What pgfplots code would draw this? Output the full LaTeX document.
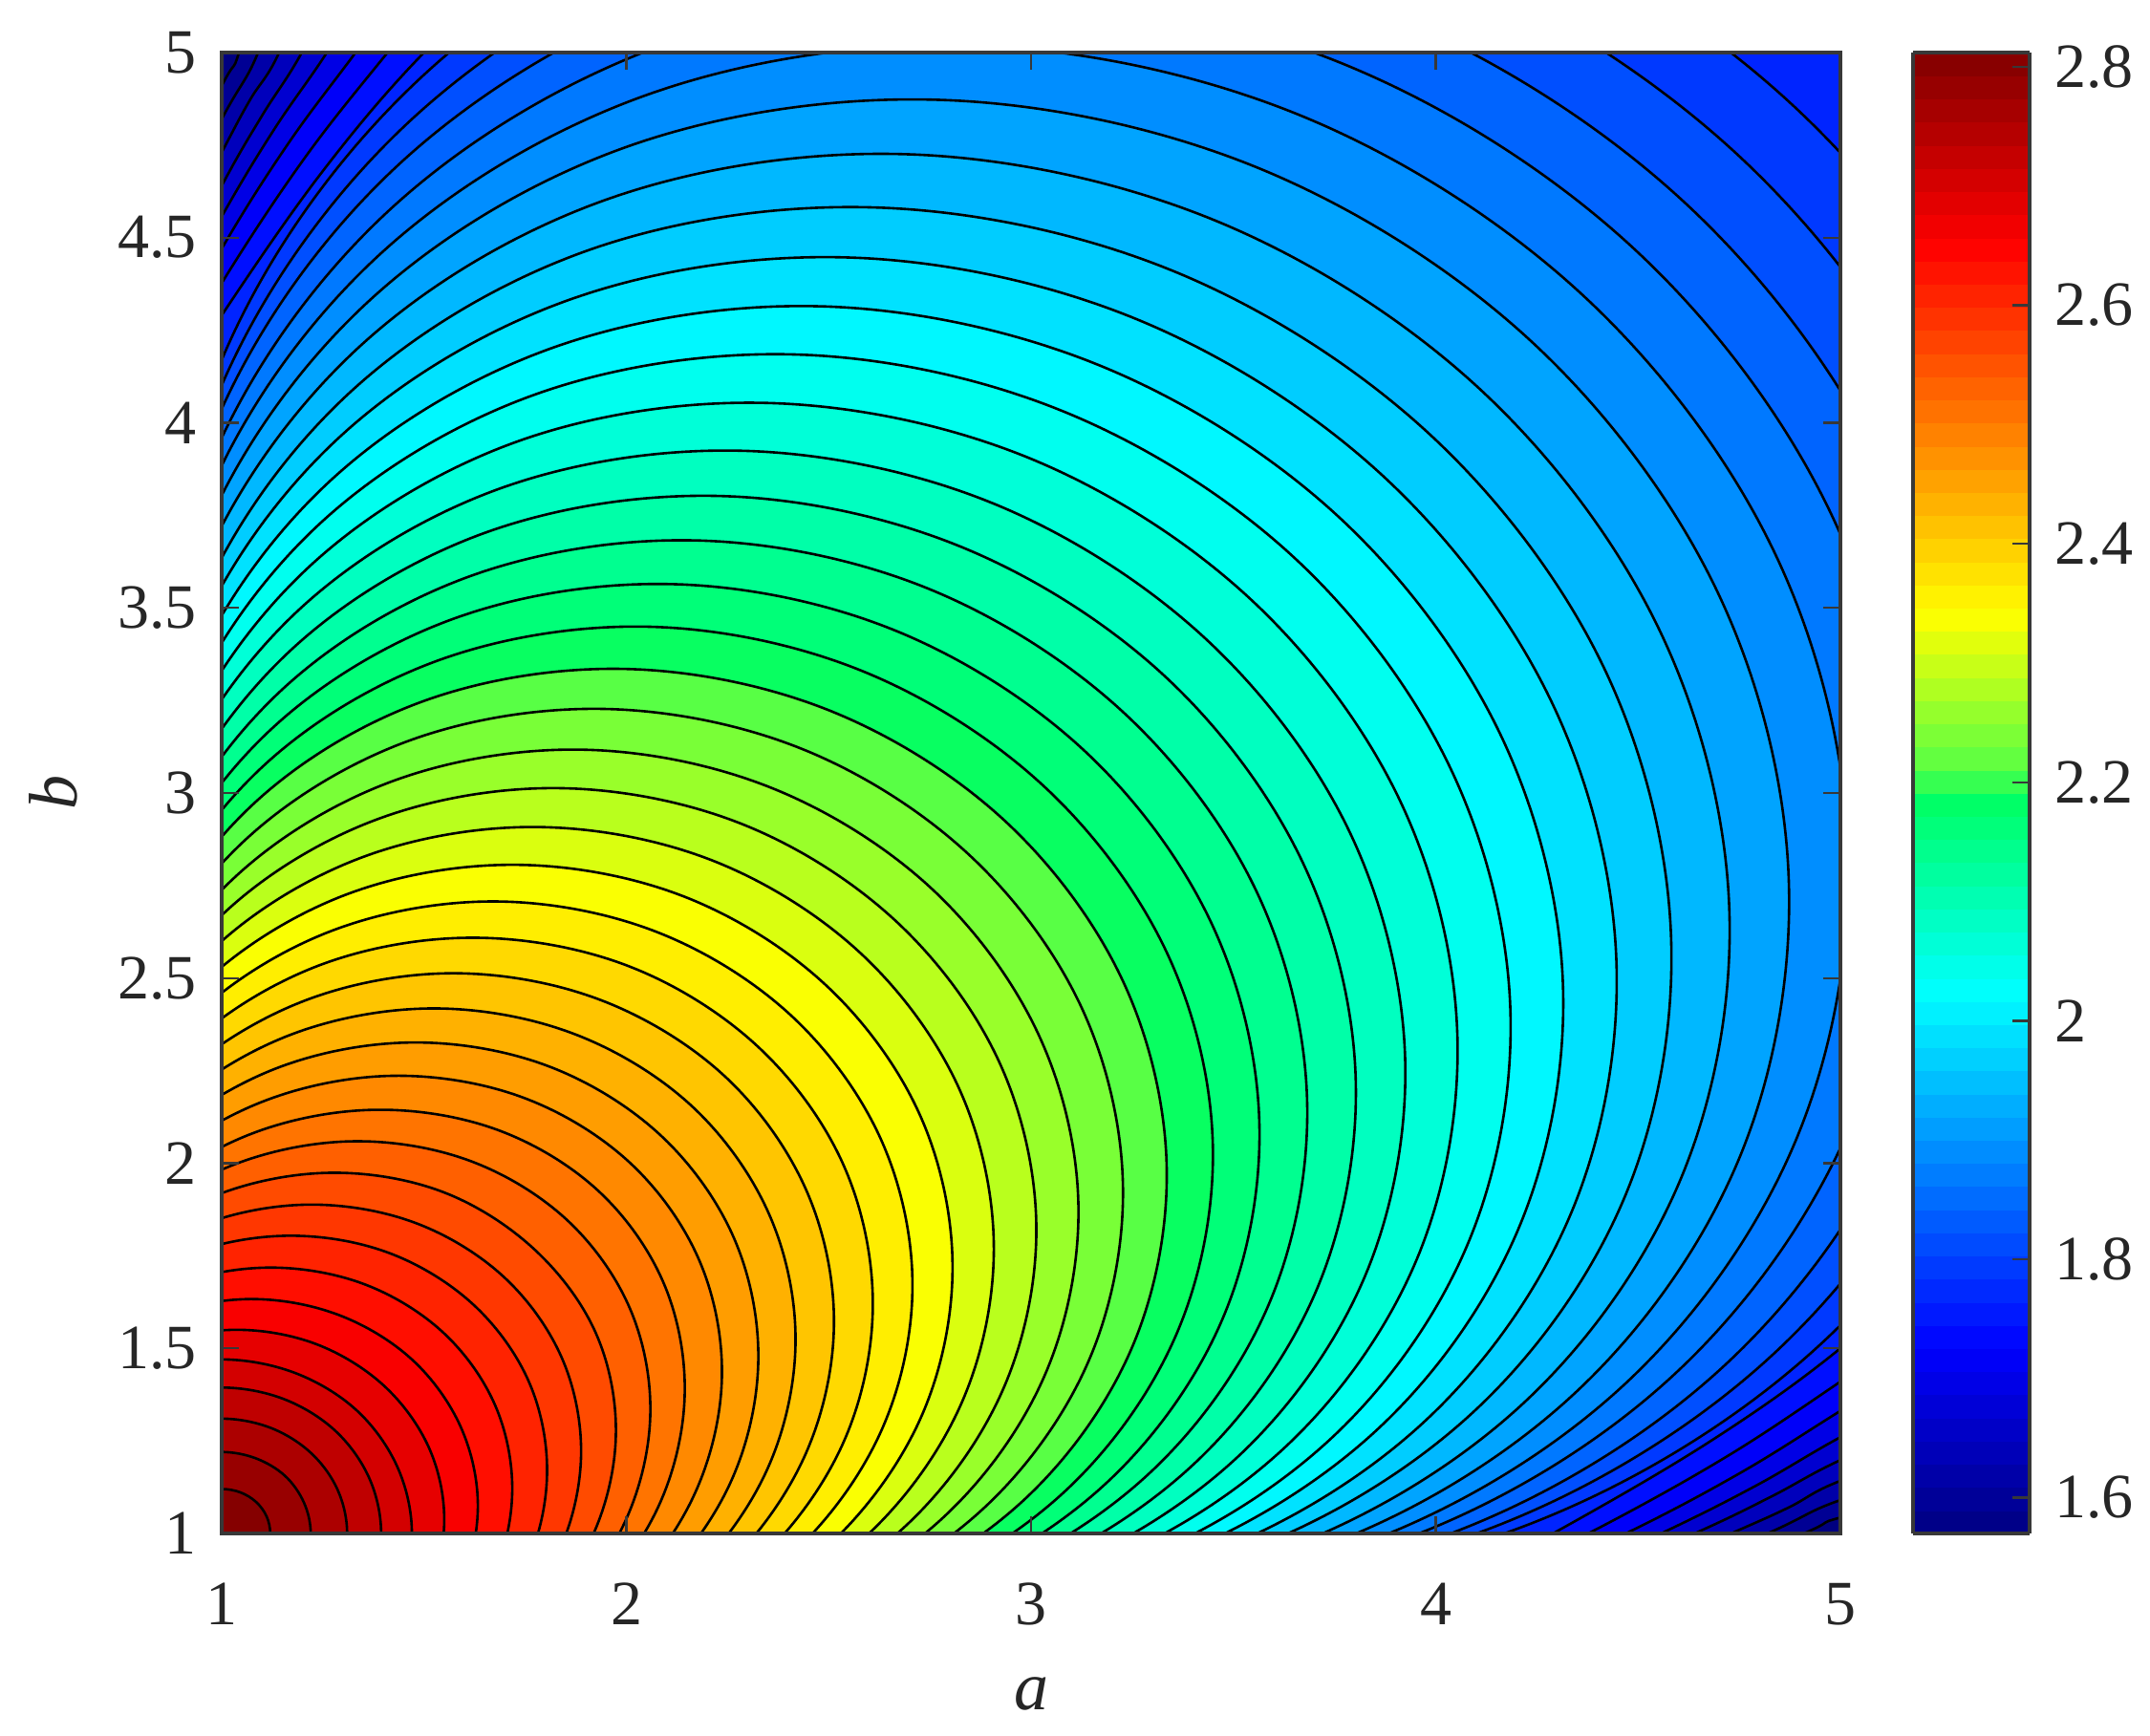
\documentclass[border=0pt]{standalone}
\usepackage{fontspec}
\setmainfont{Liberation Serif}
\usepackage{pgfplots}
\pgfplotsset{compat=1.18}
\definecolor{axisgrey}{HTML}{383838}
\pgfplotsset{colormap={cfjet}{
  rgb255(0pt)=(0,0,128);
  rgb255(125pt)=(0,0,255);
  rgb255(365pt)=(0,255,255);
  rgb255(495pt)=(0,255,100);
  rgb255(515pt)=(85,255,70);
  rgb255(620pt)=(255,255,0);
  rgb255(870pt)=(255,0,0);
  rgb255(1000pt)=(128,0,0)}}
% one filled contour: colour position in the map, then the outline
\newcommand{\band}[2]{\addplot[smooth,tension=0.6,no markers,line width=0.65pt,color of colormap={#1 of cfjet},fill=.,draw=black] coordinates {#2};}

\begin{document}
\begin{tikzpicture}
\path[use as bounding box] (0,0) rectangle (562.5pt,454.25pt);
\begin{axis}[
    at={(58pt,53pt)}, anchor=south west,
    scale only axis, width=423.5pt, height=387.5pt,
    xmin=1, xmax=5, ymin=1, ymax=5,
    xtick={1,2,3,4,5},
    ytick={1,1.5,2,2.5,3,3.5,4,4.5,5},
    axis on top,
    colormap name=cfjet,
    point meta min=1.57, point meta max=2.812,
    axis line style={color=axisgrey,line width=1pt},
    tick style={color=axisgrey,line width=0.6pt},
    tick align=inside, major tick length=4.5pt,
    /pgf/number format/assume math mode=true,
    tick label style={font=\fontsize{16.5}{19}\selectfont,color=black!85},
    xticklabel style={yshift=-9.5pt},
    yticklabel style={xshift=-3pt},
    xlabel={\textit{a}}, ylabel={\textit{b}},
    label style={font=\fontsize{18}{21}\selectfont,color=black!85},
    xlabel style={at={(rel axis cs:0.5,0)},anchor=center,yshift=-42pt},
    ylabel style={at={(rel axis cs:0,0.5)},anchor=center,yshift=44pt},
    colorbar sampled,
    colorbar style={
      samples=65,
      scale only axis,
      width=30.5pt, height=387.5pt,
      at={(1.0449,1)}, anchor=north west,
      ytick={1.6,1.8,2,2.2,2.4,2.6,2.8},
      ytick pos=right,
      tick align=inside, major tick length=4.5pt,
      yticklabel pos=right,
      yticklabel style={xshift=3pt},
      /pgf/number format/assume math mode=true,
      tick label style={font=\fontsize{16.5}{19}\selectfont,color=black!85},
      axis line style={color=axisgrey,line width=1pt},
    },
]
% outermost band, then contours from the outside in
\addplot[no markers,color of colormap={0 of cfjet},fill=.,draw=none] coordinates {(0.8,0.8)(5.2,0.8)(5.2,5.2)(0.8,5.2)};
\band{20}{(.8,.8)(.8,4.49)(1,4.91)(1.043,5)(1.12,5.3)(2,5.8)(5.8,5.8)(5.8,2)(5.3,1.12)(5,1.043)(4.91,1)(4.49,.8)}
\band{39}{(.8,.8)(.8,4.4)(1,4.82)(1.09,5)(1.18,5.3)(2,5.8)(5.8,5.8)(5.8,2)(5.3,1.18)(5,1.09)(4.82,1)(4.4,.8)}
\band{59}{(.8,.8)(.8,4.31)(1,4.73)(1.07,4.872)(1.142,5)(1.25,5.3)(2,5.8)(5.8,5.8)(5.8,2)(5.3,1.25)(5,1.142)(4.872,1.07)(4.73,1)(4.31,.8)}
\band{79}{(.8,.8)(.8,4.22)(1,4.64)(1.1,4.83)(1.198,5)(1.32,5.27)(2,5.8)(5.8,5.8)(5.8,2)(5.27,1.32)(5,1.198)(4.83,1.1)(4.64,1)(4.22,.8)}
\band{99}{(.8,.8)(.8,4.157)(1,4.557)(1.13,4.793)(1.26,5)(1.4,5.25)(2.1,5.8)(5.8,5.8)(5.8,2.1)(5.25,1.4)(5,1.26)(4.793,1.13)(4.557,1)(4.157,.8)}
\band{119}{(.8,.8)(.8,4.07)(1,4.47)(1.165,4.755)(1.331,5)(1.5,5.25)(2.2,5.8)(5.8,5.8)(5.8,2.2)(5.25,1.5)(5,1.331)(4.755,1.165)(4.47,1)(4.07,.8)}
\band{139}{(.8,.8)(.8,3.997)(1,4.377)(1.205,4.715)(1.41,5)(1.6,5.25)(2.3,5.8)(5.8,5.8)(5.8,2.3)(5.25,1.6)(5,1.41)(4.715,1.205)(4.377,1)(3.997,.8)}
\band{159}{(.8,.8)(.8,3.94)(1,4.29)(1.25,4.68)(1.5,5)(1.8,5.3)(2.5,5.7)(5.7,5.7)(5.7,2.5)(5.3,1.8)(5,1.5)(4.68,1.25)(4.29,1)(3.94,.8)}
\band{179}{(.2,.2)(.846,3.278)(1.006,4.185)(1.505,4.945)(2.266,5.445)(3.172,5.604)(4.086,5.404)(4.87,4.87)(5.404,4.086)(5.604,3.172)(5.445,2.266)(4.945,1.505)(4.185,1.006)(3.278,.846)}
\band{199}{(.2,.2)(.846,3.214)(.996,4.091)(1.475,4.825)(2.21,5.305)(3.087,5.455)(3.973,5.256)(4.735,4.735)(5.256,3.973)(5.455,3.087)(5.305,2.21)(4.825,1.475)(4.091,.996)(3.214,.846)}
\band{219}{(.2,.2)(.841,3.146)(.983,3.995)(1.445,4.705)(2.155,5.167)(3.004,5.309)(3.864,5.113)(4.605,4.605)(5.113,3.864)(5.309,3.004)(5.167,2.155)(4.705,1.445)(3.995,.983)(3.146,.841)}
\band{239}{(.2,.2)(.837,3.071)(.973,3.893)(1.42,4.58)(2.107,5.027)(2.93,5.164)(3.763,4.973)(4.48,4.48)(4.973,3.763)(5.164,2.93)(5.027,2.107)(4.58,1.42)(3.893,.973)(3.071,.837)}
\band{259}{(.2,.2)(.832,2.998)(.962,3.793)(1.393,4.457)(2.057,4.888)(2.853,5.019)(3.659,4.833)(4.354,4.354)(4.833,3.659)(5.019,2.853)(4.888,2.057)(4.457,1.393)(3.793,.962)(2.998,.832)}
\band{279}{(.2,.2)(.828,2.924)(.953,3.693)(1.368,4.333)(2.008,4.748)(2.776,4.872)(3.555,4.691)(4.228,4.228)(4.691,3.555)(4.872,2.776)(4.748,2.008)(4.333,1.368)(3.693,.953)(2.924,.828)}
\band{298}{(.2,.2)(.825,2.851)(.944,3.591)(1.343,4.208)(1.959,4.606)(2.699,4.725)(3.451,4.548)(4.1,4.1)(4.548,3.451)(4.725,2.699)(4.606,1.959)(4.208,1.343)(3.591,.944)(2.851,.825)}
\band{318}{(.2,.2)(.825,2.78)(.938,3.493)(1.321,4.086)(1.914,4.469)(2.626,4.581)(3.351,4.41)(3.977,3.977)(4.41,3.351)(4.581,2.626)(4.469,1.914)(4.086,1.321)(3.493,.938)(2.78,.825)}
\band{338}{(.2,.2)(.815,2.703)(.925,3.392)(1.295,3.965)(1.869,4.336)(2.558,4.446)(3.258,4.281)(3.863,3.863)(4.281,3.258)(4.446,2.558)(4.336,1.869)(3.965,1.295)(3.392,.925)(2.703,.815)}
\band{358}{(.2,.2)(.807,2.628)(.914,3.293)(1.273,3.848)(1.827,4.206)(2.493,4.314)(3.169,4.155)(3.753,3.753)(4.155,3.169)(4.314,2.493)(4.206,1.827)(3.848,1.273)(3.293,.914)(2.628,.807)}
\band{378}{(.2,.2)(.797,2.554)(.901,3.197)(1.248,3.733)(1.784,4.08)(2.427,4.184)(3.079,4.031)(3.643,3.643)(4.031,3.079)(4.184,2.427)(4.08,1.784)(3.733,1.248)(3.197,.901)(2.554,.797)}
\band{398}{(.2,.2)(.787,2.48)(.888,3.101)(1.223,3.618)(1.74,3.953)(2.36,4.053)(2.99,3.907)(3.533,3.533)(3.907,2.99)(4.053,2.36)(3.953,1.74)(3.618,1.223)(3.101,.888)(2.48,.787)}
\band{418}{(.2,.2)(.776,2.405)(.874,3.003)(1.198,3.502)(1.697,3.826)(2.295,3.924)(2.902,3.784)(3.424,3.424)(3.784,2.902)(3.924,2.295)(3.826,1.697)(3.502,1.198)(3.003,.874)(2.405,.776)}
\band{438}{(.2,.2)(.769,2.335)(.864,2.911)(1.178,3.393)(1.659,3.706)(2.236,3.802)(2.82,3.668)(3.323,3.323)(3.668,2.82)(3.802,2.236)(3.706,1.659)(3.393,1.178)(2.911,.864)(2.335,.769)}
\band{458}{(.2,.2)(.758,2.264)(.852,2.82)(1.155,3.285)(1.62,3.588)(2.176,3.682)(2.739,3.555)(3.223,3.223)(3.555,2.739)(3.682,2.176)(3.588,1.62)(3.285,1.155)(2.82,.852)(2.264,.758)}
\band{478}{(.2,.2)(.747,2.196)(.838,2.732)(1.13,3.18)(1.579,3.473)(2.115,3.564)(2.657,3.442)(3.123,3.123)(3.442,2.657)(3.564,2.115)(3.473,1.579)(3.18,1.13)(2.732,.838)(2.196,.747)}
\band{497}{(.2,.2)(.737,2.13)(.826,2.646)(1.108,3.078)(1.54,3.36)(2.056,3.449)(2.577,3.332)(3.025,3.025)(3.332,2.577)(3.449,2.056)(3.36,1.54)(3.078,1.108)(2.646,.826)(2.13,.737)}
\band{517}{(.2,.2)(.727,2.065)(.813,2.561)(1.085,2.977)(1.501,3.249)(1.997,3.335)(2.499,3.224)(2.93,2.93)(3.224,2.499)(3.335,1.997)(3.249,1.501)(2.977,1.085)(2.561,.813)(2.065,.727)}
\band{537}{(.2,.2)(.714,1.997)(.799,2.476)(1.063,2.878)(1.465,3.142)(1.944,3.227)(2.427,3.122)(2.84,2.84)(3.122,2.427)(3.227,1.944)(3.142,1.465)(2.878,1.063)(2.476,.799)(1.997,.714)}
\band{557}{(.2,.2)(.699,1.929)(.782,2.39)(1.038,2.778)(1.425,3.033)(1.887,3.117)(2.351,3.017)(2.748,2.748)(3.017,2.351)(3.117,1.887)(3.033,1.425)(2.778,1.038)(2.39,.782)(1.929,.699)}
\band{577}{(.2,.2)(.683,1.864)(.765,2.308)(1.013,2.683)(1.387,2.93)(1.832,3.013)(2.279,2.919)(2.66,2.66)(2.919,2.279)(3.013,1.832)(2.93,1.387)(2.683,1.013)(2.308,.765)(1.864,.683)}
\band{597}{(.2,.2)(.748,2.226)(.988,2.588)(1.349,2.827)(1.777,2.908)(2.207,2.82)(2.573,2.573)(2.82,2.207)(2.908,1.777)(2.827,1.349)(2.588,.988)(2.226,.748)}
\band{617}{(.2,.2)(.73,2.146)(.963,2.495)(1.311,2.727)(1.723,2.806)(2.136,2.723)(2.487,2.487)(2.723,2.136)(2.806,1.723)(2.727,1.311)(2.495,.963)(2.146,.73)}
\band{637}{(.2,.2)(.716,2.07)(.94,2.405)(1.275,2.629)(1.671,2.707)(2.067,2.628)(2.403,2.403)(2.628,2.067)(2.707,1.671)(2.629,1.275)(2.405,.94)(2.07,.716)}
\band{657}{(.2,.2)(.702,1.996)(.918,2.318)(1.24,2.534)(1.619,2.609)(1.999,2.535)(2.32,2.32)(2.535,1.999)(2.609,1.619)(2.534,1.24)(2.318,.918)(1.996,.702)}
\band{677}{(.2,.2)(.688,1.922)(.895,2.231)(1.205,2.439)(1.568,2.513)(1.931,2.443)(2.239,2.239)(2.443,1.931)(2.513,1.568)(2.439,1.205)(2.231,.895)(1.922,.688)}
\band{696}{(.2,.2)(.67,1.848)(.87,2.145)(1.168,2.346)(1.517,2.418)(1.864,2.352)(2.158,2.158)(2.352,1.864)(2.418,1.517)(2.346,1.168)(2.145,.87)(1.848,.67)}
\band{716}{(.2,.2)(.651,1.774)(.845,2.06)(1.132,2.255)(1.467,2.326)(1.8,2.265)(2.08,2.08)(2.265,1.8)(2.326,1.467)(2.255,1.132)(2.06,.845)(1.774,.651)}
\band{736}{(.2,.2)(.635,1.702)(.823,1.978)(1.098,2.165)(1.419,2.236)(1.738,2.18)(2.005,2.005)(2.18,1.738)(2.236,1.419)(2.165,1.098)(1.978,.823)(1.702,.635)}
\band{756}{(.2,.2)(.616,1.628)(.798,1.893)(1.063,2.075)(1.37,2.144)(1.674,2.093)(1.928,1.928)(2.093,1.674)(2.144,1.37)(2.075,1.063)(1.893,.798)(1.628,.616)}
\band{776}{(.2,.2)(.598,1.568)(.77,1.82)(1.023,1.993)(1.317,2.059)(1.607,2.009)(1.85,1.85)(2.009,1.607)(2.059,1.317)(1.993,1.023)(1.82,.77)(1.568,.598)}
\band{796}{(.2,.2)(.743,1.748)(.983,1.912)(1.263,1.974)(1.54,1.925)(1.77,1.77)(1.925,1.54)(1.974,1.263)(1.912,.983)(1.748,.743)}
\band{816}{(.2,.2)(.715,1.675)(.943,1.83)(1.209,1.888)(1.473,1.841)(1.695,1.695)(1.841,1.473)(1.888,1.209)(1.83,.943)(1.675,.715)}
\band{836}{(.2,.2)(.695,1.605)(.91,1.751)(1.161,1.804)(1.41,1.759)(1.62,1.62)(1.759,1.41)(1.804,1.161)(1.751,.91)(1.605,.695)}
\band{856}{(.2,.2)(.678,1.533)(.879,1.669)(1.114,1.718)(1.348,1.675)(1.545,1.545)(1.675,1.348)(1.718,1.114)(1.669,.879)(1.533,.678)}
\band{876}{(.2,.2)(.668,1.463)(.853,1.588)(1.071,1.633)(1.287,1.591)(1.47,1.47)(1.591,1.287)(1.633,1.071)(1.588,.853)(1.463,.668)}
\band{896}{(.2,.2)(.665,1.395)(.834,1.509)(1.034,1.55)(1.232,1.512)(1.4,1.4)(1.512,1.232)(1.55,1.034)(1.509,.834)(1.395,.665)}
\band{915}{(.2,.2)(.668,1.333)(.82,1.434)(1,1.47)(1.18,1.434)(1.333,1.333)(1.434,1.18)(1.47,1)(1.434,.82)(1.333,.668)}
\band{935}{(.2,.2)(.721,1.279)(.849,1.364)(1,1.394)(1.151,1.364)(1.279,1.279)(1.364,1.151)(1.394,1)(1.364,.849)(1.279,.721)}
\band{955}{(.7,.7)(.781,1.219)(.881,1.286)(1,1.31)(1.119,1.286)(1.219,1.219)(1.286,1.119)(1.31,1)(1.286,.881)(1.219,.781)}
\band{975}{(.8,.8)(.844,1.156)(.916,1.203)(1,1.22)(1.084,1.203)(1.156,1.156)(1.203,1.084)(1.22,1)(1.203,.916)(1.156,.844)}
\band{995}{(.85,.85)(.915,1.085)(.954,1.111)(1,1.12)(1.046,1.111)(1.085,1.085)(1.111,1.046)(1.12,1)(1.111,.954)(1.085,.915)}
\end{axis}
\end{tikzpicture}
\end{document}
